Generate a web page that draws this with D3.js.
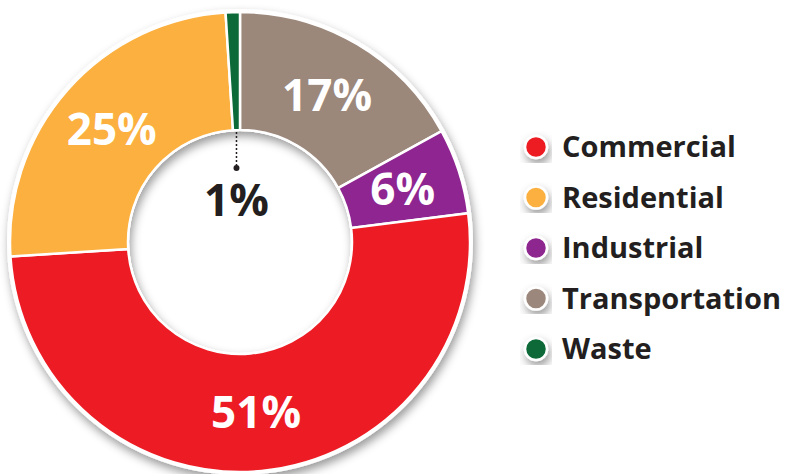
<!DOCTYPE html>
<html>
<head>
<meta charset="utf-8">
<script src="https://cdn.jsdelivr.net/npm/d3@7"></script>
<style>
  body { margin: 0; background: #fff; }
  text { font-family: "Open Sans", Roboto, "Liberation Sans", sans-serif; font-weight: 700; }
</style>
</head>
<body>
<svg id="donut" width="791" height="474"></svg>
<script>
// slices, clockwise from 12 o'clock
var sectors = ["Transportation", "Industrial", "Commercial", "Residential", "Waste"];
var shares = [17, 6, 51, 25, 1];
var colors = ["#9c877b", "#8e2590", "#ed1c24", "#fbb03f", "#0b6a37"];
// legend order
var legendOrder = ["Commercial", "Residential", "Industrial", "Transportation", "Waste"];

var width = 791, height = 474;
var cx = 240, cy = 242, outerR = 230, innerR = 112;

var svg = d3.select("#donut");

var defs = svg.append("defs");
var f = defs.append("filter").attr("id", "shadow")
    .attr("x", "-20%").attr("y", "-20%").attr("width", "140%").attr("height", "140%");
f.append("feDropShadow")
  .attr("dx", 2).attr("dy", 5).attr("stdDeviation", 5)
  .attr("flood-color", "#000").attr("flood-opacity", 0.4);

var color = d3.scaleOrdinal().domain(sectors).range(colors);

var data = sectors.map((s, i) => ({ sector: s, value: shares[i] }));

var pie = d3.pie().sort(null).value(d => d.value);
var arc = d3.arc().outerRadius(outerR).innerRadius(innerR);
var labelArc = d3.arc().outerRadius((outerR + innerR) / 2).innerRadius((outerR + innerR) / 2);

var g = svg.append("g").attr("transform", "translate(" + cx + "," + cy + ")");

// white rim with shadow underneath
g.append("path")
  .attr("d", d3.arc().outerRadius(outerR + 3).innerRadius(innerR - 1).startAngle(0).endAngle(2 * Math.PI)())
  .attr("fill", "#fff")
  .attr("filter", "url(#shadow)");

var arcs = pie(data);

g.selectAll(".arc")
  .data(arcs)
  .enter()
  .append("path")
    .classed("arc", true)
    .attr("d", arc)
    .attr("fill", d => color(d.data.sector))
    .attr("stroke", "#fff")
    .attr("stroke-width", 2.5);

g.selectAll(".pct")
  .data(arcs.filter(d => d.data.value > 2))
  .enter()
  .append("text")
    .classed("pct", true)
    .attr("transform", d => "translate(" + labelArc.centroid(d) + ")")
    .attr("text-anchor", "middle")
    .attr("dy", "0.36em")
    .attr("font-size", 44)
    .attr("fill", "#fff")
    .text(d => d.data.value + "%");

// small slice: label inside the hole with a dotted leader
var small = arcs.filter(d => d.data.value <= 2)[0];
var midA = (small.startAngle + small.endAngle) / 2;
var sx = innerR * Math.sin(midA), sy = -innerR * Math.cos(midA);
g.append("line")
  .attr("x1", sx).attr("y1", sy + 2)
  .attr("x2", sx).attr("y2", sy + 38)
  .attr("stroke", "#231f20")
  .attr("stroke-width", 1.5)
  .attr("stroke-dasharray", "2,2");
g.append("circle")
  .attr("cx", sx).attr("cy", sy + 38)
  .attr("r", 3)
  .attr("fill", "#231f20");
g.append("text")
  .attr("x", sx)
  .attr("y", sy + 86)
  .attr("text-anchor", "middle")
  .attr("font-size", 44)
  .attr("fill", "#231f20")
  .text(small.data.value + "%");

// legend
var y = d3.scalePoint().domain(legendOrder).range([147, 349]);

var legend = svg.append("g").selectAll(".item")
  .data(legendOrder)
  .enter()
  .append("g")
    .classed("item", true)
    .attr("transform", d => "translate(536," + y(d) + ")");

legend.append("circle")
  .attr("r", 11)
  .attr("fill", d => color(d))
  .attr("stroke", "#fff")
  .attr("stroke-width", 2.5)
  .attr("filter", "url(#shadow)");

legend.append("text")
  .attr("x", 26)
  .attr("dy", "0.36em")
  .attr("font-size", 29)
  .attr("fill", "#231f20")
  .text(d => d);
</script>
</body>
</html>
